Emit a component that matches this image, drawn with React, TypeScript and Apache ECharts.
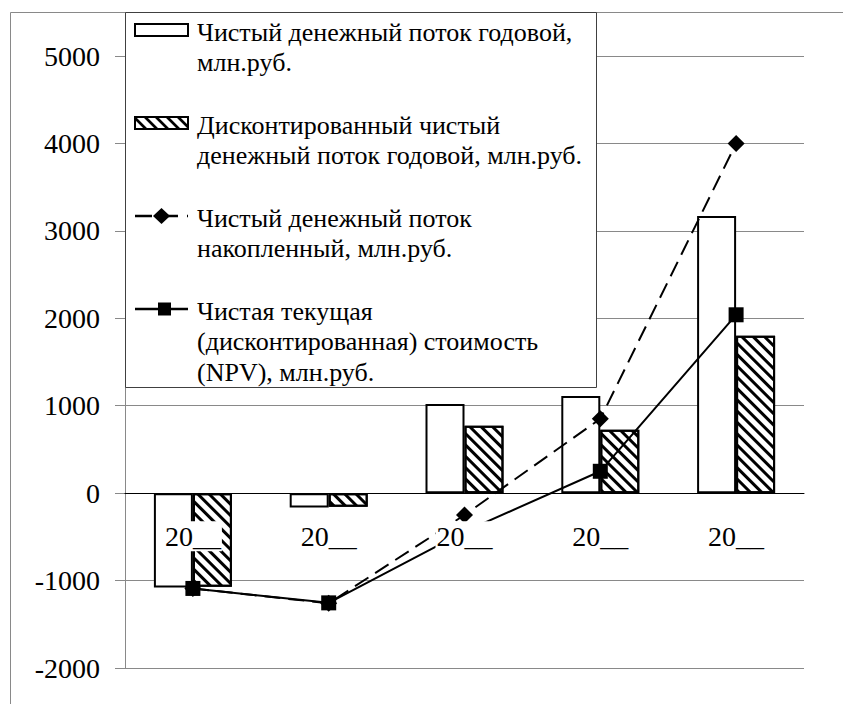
import React, { useEffect, useRef } from 'react';
import * as echarts from 'echarts';

const categories = ['20__', '20__', '20__', '20__', '20__'];
const cashFlowAnnual = [-1080, -165, 1020, 1110, 3170];
const discountedAnnual = [-1070, -155, 770, 725, 1800];
const cashFlowCumulative = [-1090, -1260, -250, 850, 4000];
const npvValues = [-1090, -1255, -440, 250, 2040];
const yMin = -2000;
const yMax = 5000;
const yStep = 1000;

const seriesNames = [
  'Чистый денежный поток годовой,\nмлн.руб.',
  'Дисконтированный чистый\nденежный поток годовой, млн.руб.',
  'Чистый денежный поток\nнакопленный, млн.руб.',
  'Чистая текущая\n(дисконтированная) стоимость\n(NPV), млн.руб.',
];

const FONT = 'Liberation Serif';
const GRID = '#898989';
const GRID_TOP = 56;
const GRID_BOTTOM = 36;
const CHART_H = 704;

function hatchLines(x0: number, y0: number, w: number, h: number, step: number, z: number) {
  const out: any[] = [];
  for (let c = x0 - h; c < x0 + w; c += step) {
    let sx = c, sy = y0, ex = c + h, ey = y0 + h;
    if (sx < x0) { sy = y0 + (x0 - sx); sx = x0; }
    if (ex > x0 + w) { ey = y0 + (x0 + w - c); ex = x0 + w; }
    if (ex <= sx) continue;
    out.push({
      type: 'line', z, silent: true,
      shape: { x1: sx, y1: sy, x2: ex, y2: ey },
      style: { stroke: '#000', lineWidth: 2.6 },
    });
  }
  return out;
}

function buildGraphic() {
  const z = 50;
  const iconX = 135, iconW = 53;
  const iconCenters = [30, 123, 216, 309];
  const textX = 197;
  const lh = 30.5;
  const els: any[] = [];
  els.push({
    type: 'rect', z: 1, silent: true,
    shape: { x: 10.5, y: 12.5, width: 1000, height: 1000 },
    style: { fill: 'none', stroke: GRID, lineWidth: 1 },
  });
  els.push({
    type: 'rect', z, silent: true,
    shape: { x: 125.5, y: 12.5, width: 471, height: 375 },
    style: { fill: '#fff', stroke: '#404040', lineWidth: 1 },
  });
  els.push({
    type: 'rect', z: z + 1, silent: true,
    shape: { x: iconX, y: iconCenters[0] - 6, width: iconW, height: 12 },
    style: { fill: '#fff', stroke: '#000', lineWidth: 2 },
  });
  els.push({
    type: 'rect', z: z + 1, silent: true,
    shape: { x: iconX, y: iconCenters[1] - 6, width: iconW, height: 12 },
    style: { fill: '#fff', stroke: 'none' },
  });
  els.push(...hatchLines(iconX, iconCenters[1] - 6, iconW, 12, 11, z + 2));
  els.push({
    type: 'rect', z: z + 3, silent: true,
    shape: { x: iconX, y: iconCenters[1] - 6, width: iconW, height: 12 },
    style: { fill: 'none', stroke: '#000', lineWidth: 2 },
  });
  const c3 = iconCenters[2];
  els.push({
    type: 'line', z: z + 1, silent: true,
    shape: { x1: iconX, y1: c3, x2: iconX + iconW, y2: c3 },
    style: { stroke: '#000', lineWidth: 2.5, lineDash: [17, 9] },
  });
  els.push({
    type: 'polygon', z: z + 2, silent: true,
    shape: { points: [[161.5, c3 - 8], [170, c3], [161.5, c3 + 8], [153, c3]] },
    style: { fill: '#000' },
  });
  const c4 = iconCenters[3];
  els.push({
    type: 'line', z: z + 1, silent: true,
    shape: { x1: iconX, y1: c4, x2: iconX + iconW, y2: c4 },
    style: { stroke: '#000', lineWidth: 2.5 },
  });
  els.push({
    type: 'rect', z: z + 2, silent: true,
    shape: { x: 158, y: c4 - 6.5, width: 13, height: 13 },
    style: { fill: '#000' },
  });
  seriesNames.forEach((name, i) => {
    els.push({
      type: 'text', z: z + 2, silent: true,
      x: textX, y: iconCenters[i] + 2 - lh / 2,
      style: {
        text: name, fontSize: 26, fontFamily: FONT, fill: '#000',
        lineHeight: lh, verticalAlign: 'top', align: 'left',
      },
    });
  });
  return els;
}

export default function App() {
  const ref = useRef<HTMLDivElement>(null);
  useEffect(() => {
    if (!ref.current) return;
    const chart = echarts.init(ref.current, null, { renderer: 'svg' });
    const plotH = CHART_H - GRID_TOP - GRID_BOTTOM;
    const zeroOffset = -plotH * (0 - yMin) / (yMax - yMin);
    const option: any = {
      animation: false,
      backgroundColor: '#fff',
      grid: {
        left: 125, right: 39, top: GRID_TOP, bottom: GRID_BOTTOM,
        containLabel: false, outerBoundsMode: 'none',
      },
      xAxis: {
        type: 'category',
        data: categories,
        z: 10,
        offset: zeroOffset,
        axisLine: { onZero: false, lineStyle: { color: '#000', width: 1 } },
        axisTick: { show: false },
        splitLine: { show: false },
        axisLabel: {
          interval: 0, margin: 28, fontSize: 28, fontFamily: FONT, color: '#000',
          backgroundColor: '#fff', lineHeight: 30, padding: [0, 1, 0, 1],
        },
      },
      yAxis: {
        type: 'value',
        min: yMin, max: yMax, interval: yStep,
        axisLine: { show: true, lineStyle: { color: GRID, width: 1 } },
        axisTick: { show: true, length: 10, lineStyle: { color: GRID } },
        splitLine: { show: true, lineStyle: { color: GRID, width: 1 } },
        axisLabel: {
          margin: 25, fontSize: 28, fontFamily: FONT, color: '#000',
          formatter: (v: number) => String(v),
        },
      },
      series: [
        {
          name: seriesNames[0], type: 'bar', data: cashFlowAnnual,
          barWidth: 39, barGap: '0%',
          itemStyle: { color: '#fff', borderColor: '#000', borderWidth: 2 },
        },
        {
          name: seriesNames[1], type: 'bar', data: discountedAnnual,
          barWidth: 39, barGap: '0%',
          itemStyle: {
            color: '#fff', borderColor: '#000', borderWidth: 2,
            decal: {
              symbol: 'rect', symbolSize: 1, dashArrayX: [1, 0], dashArrayY: [3, 5],
              rotation: Math.PI / 4, color: '#000', backgroundColor: '#fff',
            },
          },
        },
        {
          name: seriesNames[2], type: 'line', data: cashFlowCumulative,
          symbol: 'diamond', symbolSize: 17,
          lineStyle: { color: '#000', width: 2, type: [16, 8] },
          itemStyle: { color: '#000' },
        },
        {
          name: seriesNames[3], type: 'line', data: npvValues,
          symbol: 'rect', symbolSize: 15,
          lineStyle: { color: '#000', width: 2 },
          itemStyle: { color: '#000' },
        },
      ],
      graphic: buildGraphic(),
    };
    chart.setOption(option);
    return () => chart.dispose();
  }, []);
  return (
    <div
      ref={ref}
      style={{ position: 'fixed', left: 0, top: 0, width: 843, height: 704, background: '#fff' }}
    />
  );
}
